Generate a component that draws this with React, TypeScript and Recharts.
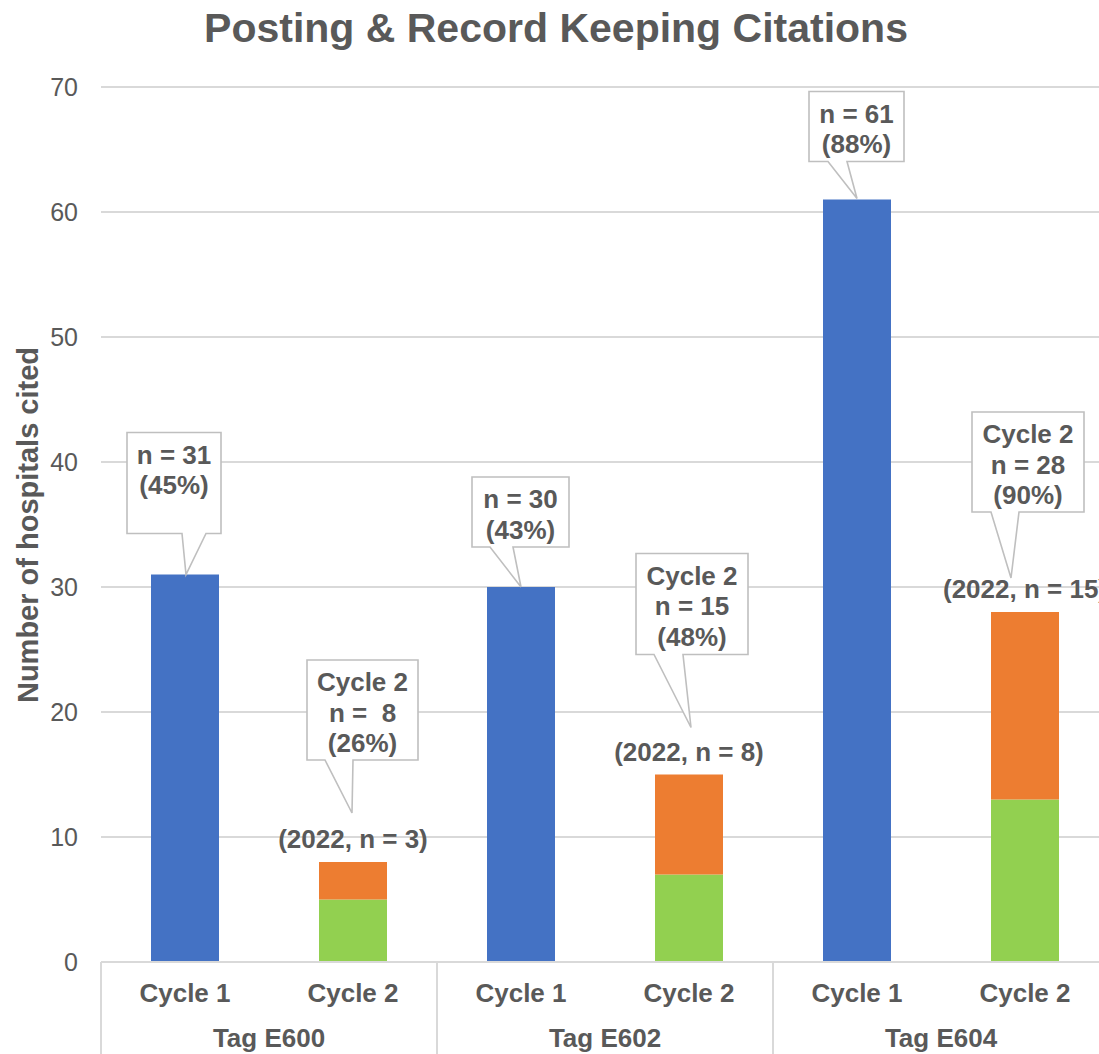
import { Bar, BarChart, CartesianGrid, LabelList, XAxis, YAxis } from "recharts";

const tags = ["Tag E600", "Tag E602", "Tag E604"];
const cycles = ["Cycle 1", "Cycle 2"];
const cycle1Cited = [31, 30, 61];
const cycle1Pct = ["45%", "43%", "88%"];
const cycle2Repeat = [5, 7, 13];
const cycle2In2022 = [3, 8, 15];
const cycle2Pct = ["26%", "48%", "90%"];
const yTicks = [0, 10, 20, 30, 40, 50, 60, 70];

const FONT = "'Liberation Sans', Arial, sans-serif";
const TEXT = "#595959";
const GRID = "#d9d9d9";
const CAT_W = 168;
const PLOT_BOTTOM = 962;

// callout boxes relative to bar top centre: box [l, t, r, b], pointer base [l, r], tip [dx, dy]
const c1Callouts = [
  { box: [-58, -142, 36, -41], base: [-3, 21], tip: [1, 0] },
  { box: [-49, -110, 48, -40], base: [-31, -8], tip: [0, 0] },
  { box: [-48, -108, 47, -38], base: [-29, -10], tip: [0, -1] },
];
const c2Callouts = [
  { box: [-46, -202, 65, -102], base: [-28, 0], tip: [-1, -49] },
  { box: [-53, -221, 59, -120], base: [-35, -6], tip: [2, -47] },
  { box: [-53, -200, 59, -100], base: [-34, -6], tip: [-14, -34] },
];

const data = tags.flatMap((tag, t) => [
  { key: `${tag}|0`, t, c1: cycle1Cited[t], rep: 0, new22: 0 },
  { key: `${tag}|1`, t, c1: 0, rep: cycle2Repeat[t], new22: cycle2In2022[t] },
]);

function Callout({ cx, top, spec, lines }: any) {
  const [l, t, r, b] = spec.box;
  const pts = [
    [cx + l, top + t],
    [cx + r, top + t],
    [cx + r, top + b],
    [cx + spec.base[1], top + b],
    [cx + spec.tip[0], top + spec.tip[1]],
    [cx + spec.base[0], top + b],
    [cx + l, top + b],
  ];
  const mid = cx + (l + r) / 2;
  return (
    <g>
      <path
        d={"M" + pts.map((p) => p.join(",")).join("L") + "Z"}
        fill="#fff"
        stroke="#bfbfbf"
        strokeWidth={1.6}
      />
      {lines.map((s: string, i: number) => (
        <text
          key={i}
          x={mid}
          y={top + t + 22 + i * 30.5}
          textAnchor="middle"
          dominantBaseline="central"
          fontFamily={FONT}
          fontWeight="bold"
          fontSize={26}
          fill={TEXT}
          style={{ whiteSpace: "pre" }}
        >
          {s}
        </text>
      ))}
    </g>
  );
}

function Cycle1Label(props: any) {
  const { x, y, width, value } = props;
  const t = cycle1Cited.indexOf(Number(value));
  if (t < 0) return null;
  const cx = x + width / 2;
  return (
    <Callout
      cx={cx}
      top={y}
      spec={c1Callouts[t]}
      lines={[`n = ${cycle1Cited[t]}`, `(${cycle1Pct[t]})`]}
    />
  );
}

function Cycle2Label(props: any) {
  const { x, y, width, value } = props;
  const t = cycle2In2022.indexOf(Number(value));
  if (t < 0) return null;
  const cx = x + width / 2;
  const total = cycle2Repeat[t] + cycle2In2022[t];
  return (
    <g>
      <text
        x={cx}
        y={y - 23}
        textAnchor="middle"
        dominantBaseline="central"
        fontFamily={FONT}
        fontWeight="bold"
        fontSize={26}
        fill={TEXT}
      >
        {`(2022, n = ${cycle2In2022[t]})`}
      </text>
      <Callout
        cx={cx}
        top={y}
        spec={c2Callouts[t]}
        lines={["Cycle 2", total < 10 ? `n =  ${total}` : `n = ${total}`, `(${cycle2Pct[t]})`]}
      />
    </g>
  );
}

function CategoryTick(props: any) {
  const { x, payload } = props;
  const idx = data.findIndex((d) => d.key === payload.value);
  if (idx < 0) return null;
  const row = data[idx];
  const cyc = idx % 2;
  const txt = { fontFamily: FONT, fontWeight: "bold", fontSize: 26, fill: TEXT } as const;
  return (
    <g>
      <text x={x} y={993} textAnchor="middle" dominantBaseline="central" {...txt}>
        {cycles[cyc]}
      </text>
      {cyc === 0 && (
        <>
          <line x1={x - CAT_W / 2} x2={x - CAT_W / 2} y1={PLOT_BOTTOM} y2={1054} stroke={GRID} strokeWidth={2} />
          <text x={x + CAT_W / 2} y={1038} textAnchor="middle" dominantBaseline="central" {...txt}>
            {tags[row.t]}
          </text>
        </>
      )}
      {cyc === 1 && (
        <line x1={x + CAT_W / 2} x2={x + CAT_W / 2} y1={PLOT_BOTTOM} y2={1054} stroke={GRID} strokeWidth={2} />
      )}
    </g>
  );
}

export default function App() {
  return (
    <div
      style={{
        position: "absolute",
        left: 0,
        top: 0,
        width: 1099,
        height: 1054,
        overflow: "hidden",
        background: "#fff",
      }}
    >
      <svg width={1099} height={1054} style={{ position: "absolute", left: 0, top: 0 }}>
        <text
          x={556}
          y={28}
          textAnchor="middle"
          dominantBaseline="central"
          fontFamily={FONT}
          fontWeight="bold"
          fontSize={41}
          fill={TEXT}
        >
          Posting &amp; Record Keeping Citations
        </text>
        <text
          transform="translate(28,525) rotate(-90)"
          textAnchor="middle"
          dominantBaseline="central"
          fontFamily={FONT}
          fontWeight="bold"
          fontSize={29}
          fill={TEXT}
        >
          Number of hospitals cited
        </text>
      </svg>
      <div style={{ position: "absolute", left: 0, top: 0 }}>
        <BarChart
          width={1110}
          height={1054}
          data={data}
          margin={{ top: 87, right: 1, bottom: 0, left: 0 }}
          barSize={68}
        >
          <CartesianGrid vertical={false} stroke={GRID} strokeWidth={2} />
          <XAxis
            dataKey="key"
            height={92}
            axisLine={{ stroke: GRID, strokeWidth: 2 }}
            tickLine={false}
            tick={<CategoryTick />}
            interval={0}
          />
          <YAxis
            width={101}
            domain={[0, 70]}
            ticks={yTicks}
            axisLine={false}
            tickLine={false}
            tickSize={0}
            tickMargin={23}
            tick={{ fontFamily: FONT, fontSize: 25, fill: TEXT }}
          />
          <Bar dataKey="c1" stackId="s" fill="#4472C4" isAnimationActive={false}>
            <LabelList dataKey="c1" content={<Cycle1Label />} />
          </Bar>
          <Bar dataKey="rep" stackId="s" fill="#92D050" isAnimationActive={false} />
          <Bar dataKey="new22" stackId="s" fill="#ED7D31" isAnimationActive={false}>
            <LabelList dataKey="new22" content={<Cycle2Label />} />
          </Bar>
        </BarChart>
      </div>
    </div>
  );
}
